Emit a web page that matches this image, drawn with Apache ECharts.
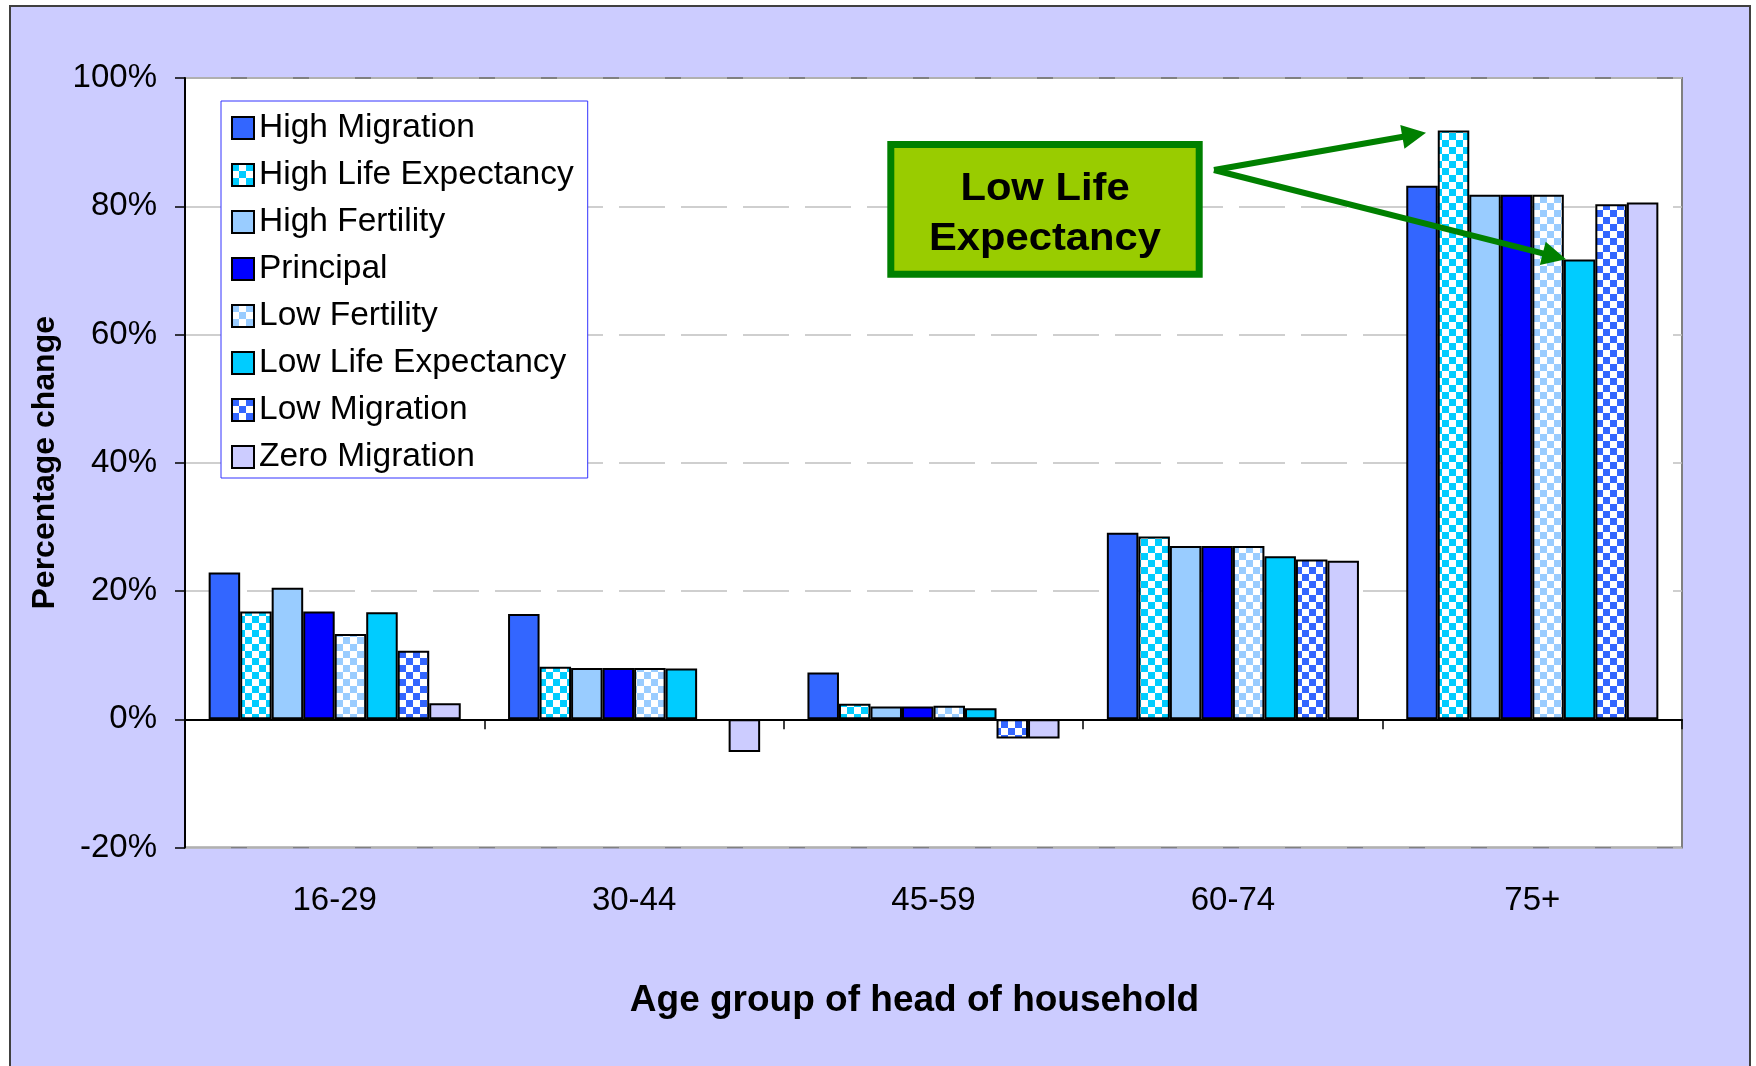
<!DOCTYPE html>
<html>
<head>
<meta charset="utf-8">
<script src="https://cdn.jsdelivr.net/npm/echarts@6/dist/echarts.min.js"></script>
<style>
  html, body { margin: 0; padding: 0; background: #fff; overflow: hidden; }
  #frame { position: absolute; left: 9px; top: 5px; width: 1738px; height: 1080px;
           background: #CCCCFF; border: 2px solid #404040; }
  #chart { position: absolute; left: 0; top: 0; width: 1756px; height: 1066px; }
</style>
</head>
<body>
<div id="frame"></div>
<div id="chart"></div>
<script>
var categories = ['16-29', '30-44', '45-59', '60-74', '75+'];
var seriesNames = ['High Migration', 'High Life Expectancy', 'High Fertility', 'Principal',
                   'Low Fertility', 'Low Life Expectancy', 'Low Migration', 'Zero Migration'];
var highMigration = [22.9, 16.4, 7.3, 29.1, 83.2];
var highLifeExp   = [16.8, 8.2, 2.4, 28.5, 91.8];
var highFertility = [20.5, 8.0, 2.0, 27.0, 81.8];
var principal     = [16.8, 8.0, 2.0, 27.0, 81.8];
var lowFertility  = [13.3, 8.0, 2.1, 27.0, 81.8];
var lowLifeExp    = [16.7, 7.9, 1.7, 25.4, 71.7];
var lowMigration  = [10.7, -0.2, -3.0, 24.9, 80.3];
var zeroMigration = [2.5, -5.1, -3.0, 24.7, 80.6];
var yTicks = [-20, 0, 20, 40, 60, 80, 100];

var FONT = '"Liberation Sans", Arial, sans-serif';

// small checker board fill like the excel pattern
function checker(color) {
    var c = 7;
    var cv = document.createElement('canvas');
    cv.width = c * 2; cv.height = c * 2;
    var ctx = cv.getContext('2d');
    ctx.fillStyle = '#ffffff';
    ctx.fillRect(0, 0, c * 2, c * 2);
    ctx.fillStyle = color;
    ctx.fillRect(0, 0, c, c);
    ctx.fillRect(c, c, c, c);
    return { image: cv, repeat: 'repeat' };
}

var fills = ['#3366FF', checker('#00CCFF'), '#99CCFF', '#0000FF',
             checker('#99CCFF'), '#00CCFF', checker('#3366FF'), '#CCCCFF'];
var values = [highMigration, highLifeExp, highFertility, principal,
              lowFertility, lowLifeExp, lowMigration, zeroMigration];

var chart = echarts.init(document.getElementById('chart'));

var series = seriesNames.map(function (name, i) {
    return {
        name: name,
        type: 'bar',
        xAxisIndex: 0,
        barGap: '0%',
        barCategoryGap: '15.8%',
        itemStyle: { color: fills[i], borderColor: '#000', borderWidth: 2 },
        data: values[i]
    };
});

// green call-out arrows
function arrow(sx, sy, tx, ty) {
    var dx = tx - sx, dy = ty - sy;
    var len = Math.sqrt(dx * dx + dy * dy);
    var ux = dx / len, uy = dy / len;
    var bx = tx - ux * 24, by = ty - uy * 24;
    var nx = -uy * 12, ny = ux * 12;
    return [
        { type: 'polyline', shape: { points: [[sx, sy], [bx + ux * 2, by + uy * 2]] },
          style: { stroke: '#008000', lineWidth: 6, fill: null }, z: 20 },
        { type: 'polygon', shape: { points: [[tx, ty], [bx + nx, by + ny], [bx - nx, by - ny]] },
          style: { fill: '#008000' }, z: 20 }
    ];
}

var graphics = [
    { type: 'rect', shape: { x: 890.8, y: 144.5, width: 308.4, height: 129.7 },
      style: { fill: '#99CC00', stroke: '#008000', lineWidth: 7 }, z: 20 },
    { type: 'text', x: 1045, y: 189.5, scaleX: 1.07, z: 21,
      style: { text: 'Low Life', font: 'bold 39px ' + FONT, fill: '#000', align: 'center', verticalAlign: 'middle' } },
    { type: 'text', x: 1045, y: 239.5, scaleX: 1.07, z: 21,
      style: { text: 'Expectancy', font: 'bold 39px ' + FONT, fill: '#000', align: 'center', verticalAlign: 'middle' } }
].concat(arrow(1214, 170, 1426, 132.7)).concat(arrow(1214, 170, 1566, 259.3));

option = {
    animation: false,
    textStyle: { fontFamily: FONT },
    grid: {
        left: 185, top: 78, right: 74, bottom: 218.5,
        show: true, backgroundColor: '#fff', borderColor: '#808080', borderWidth: 2
    },
    legend: {
        orient: 'vertical',
        left: 221, top: 101,
        backgroundColor: '#fff',
        borderColor: '#3333FF', borderWidth: 1,
        padding: [9, 14, 3, 10],
        itemWidth: 22, itemHeight: 22, itemGap: 11,
        icon: 'rect',
        textStyle: { fontSize: 33.5, lineHeight: 36, color: '#000', fontFamily: FONT },
        data: seriesNames
    },
    xAxis: [
        {
            type: 'category',
            data: categories,
            position: 'bottom',
            axisLine: { show: false, onZero: false },
            axisTick: { show: false },
            axisLabel: { fontSize: 33, color: '#000', margin: 37, fontFamily: FONT },
            name: 'Age group of head of household',
            nameLocation: 'middle',
            nameGap: 135,
            nameTextStyle: { fontSize: 37, fontWeight: 'bold', color: '#000', fontFamily: FONT,
                             padding: [0, 38, 0, 0] }
        },
        {
            type: 'category',
            data: categories,
            position: 'bottom',
            axisLine: { show: true, onZero: true, lineStyle: { color: '#000', width: 2 } },
            axisTick: { show: true, length: 10, lineStyle: { color: '#000', width: 1.5 } },
            axisLabel: { show: false }
        }
    ],
    yAxis: {
        type: 'value',
        min: yTicks[0],
        max: yTicks[yTicks.length - 1],
        interval: 20,
        axisLine: { show: true, lineStyle: { color: '#000', width: 2 } },
        axisTick: { show: true, length: 10, lineStyle: { color: '#000', width: 1.5 } },
        axisLabel: { formatter: '{value}%', fontSize: 33, color: '#000', margin: 28, fontFamily: FONT },
        splitLine: { show: true, lineStyle: { color: '#C0C0C0', width: 1.5, type: [46, 16] } },
        name: 'Percentage change',
        nameLocation: 'middle',
        nameRotate: 90,
        nameGap: 124,
        nameTextStyle: { fontSize: 32, fontWeight: 'bold', color: '#000', fontFamily: FONT }
    },
    graphic: graphics,
    series: series
};

chart.setOption(option);
</script>
</body>
</html>
